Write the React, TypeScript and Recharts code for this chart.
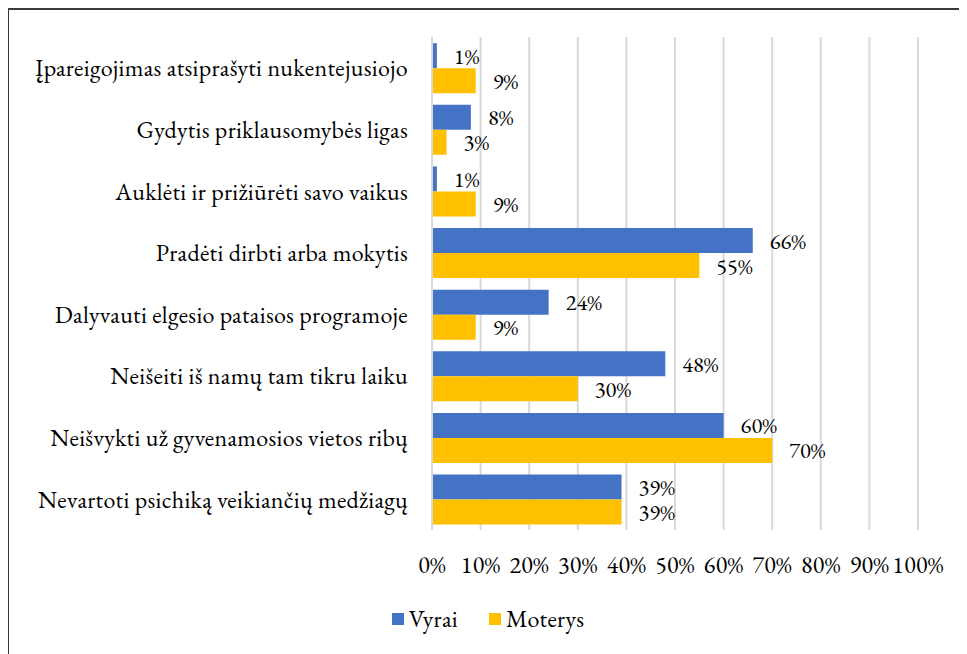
import React from "react";
import {
  Bar,
  BarChart,
  CartesianGrid,
  LabelList,
  Legend,
  XAxis,
  YAxis,
} from "recharts";

// Lygintinos sąlygos (iš viršaus į apačią)
const categories = [
  "Įpareigojimas atsiprašyti nukentejusiojo",
  "Gydytis priklausomybės ligas",
  "Auklėti ir prižiūrėti savo vaikus",
  "Pradėti dirbti arba mokytis",
  "Dalyvauti elgesio pataisos programoje",
  "Neišeiti iš namų tam tikru laiku",
  "Neišvykti už gyvenamosios vietos ribų",
  "Nevartoti psichiką veikiančių medžiagų",
];
const vyrai = [1, 8, 1, 66, 24, 48, 60, 39];
const moterys = [9, 3, 9, 55, 9, 30, 70, 39];
const xTicks = [0, 10, 20, 30, 40, 50, 60, 70, 80, 90, 100];

const data = categories.map((name, i) => ({
  name,
  Vyrai: vyrai[i],
  Moterys: moterys[i],
}));

const FONT = '"EB Garamond", "Liberation Serif", serif';
const FS = 24;
const LS = 0.3;
const BLUE = "#4472C4";
const GOLD = "#FFC000";
const series = [
  { key: "Vyrai", color: BLUE },
  { key: "Moterys", color: GOLD },
];

const pct = (v: number) => `${v}%`;
const textStyle = { fill: "#000", fontSize: FS, fontFamily: FONT, letterSpacing: LS };
const labelStyle = { fill: "#000", fontSize: 22.5, fontFamily: FONT };

const renderLegend = () => (
  <div
    style={{
      display: "flex",
      justifyContent: "center",
      alignItems: "center",
      height: 20,
      fontFamily: FONT,
      fontSize: FS,
      letterSpacing: LS,
      lineHeight: "20px",
      color: "#000",
    }}
  >
    {series.map((s, i) => (
      <div
        key={s.key}
        style={{
          display: "flex",
          alignItems: "center",
          marginLeft: i === 0 ? 0 : 31,
        }}
      >
        <span
          style={{
            width: 12,
            height: 12,
            background: s.color,
            display: "inline-block",
            marginRight: 5,
          }}
        />
        <span>{s.key}</span>
      </div>
    ))}
  </div>
);

const App: React.FC = () => {
  return (
    <div
      style={{
        width: 960,
        height: 646,
        marginLeft: -1,
        borderTop: "2px solid #3a3a3a",
        borderLeft: "2px solid #3a3a3a",
        boxSizing: "border-box",
        overflow: "hidden",
        fontFamily: FONT,
      }}
    >
      <BarChart
        width={958}
        height={644}
        layout="vertical"
        data={data}
        margin={{ top: 27, right: 49, bottom: 74, left: 0 }}
        barCategoryGap="10%"
        barGap={0}
        style={{ fontFamily: FONT }}
      >
        <CartesianGrid
          horizontal={false}
          stroke="#d9d9d9"
          strokeWidth={2}
        />
        <XAxis
          type="number"
          domain={[0, 100]}
          ticks={xTicks}
          tickFormatter={pct}
          height={30}
          axisLine={false}
          tickLine={false}
          tickSize={0}
          tickMargin={26}
          interval={0}
          tick={textStyle}
        />
        <YAxis
          type="category"
          dataKey="name"
          width={423}
          axisLine={{ stroke: "#d9d9d9", strokeWidth: 2 }}
          tickLine={false}
          tickSize={0}
          tickMargin={24}
          interval={0}
          tick={textStyle}
        />
        <Legend
          verticalAlign="bottom"
          content={renderLegend}
          wrapperStyle={{ left: 0, width: 958, top: 599, height: 20 }}
        />
        {series.map((s) => (
          <Bar
            key={s.key}
            dataKey={s.key}
            fill={s.color}
            isAnimationActive={false}
          >
            <LabelList
              dataKey={s.key}
              position="right"
              offset={17}
              formatter={pct}
              style={labelStyle}
            />
          </Bar>
        ))}
      </BarChart>
    </div>
  );
};

export default App;
